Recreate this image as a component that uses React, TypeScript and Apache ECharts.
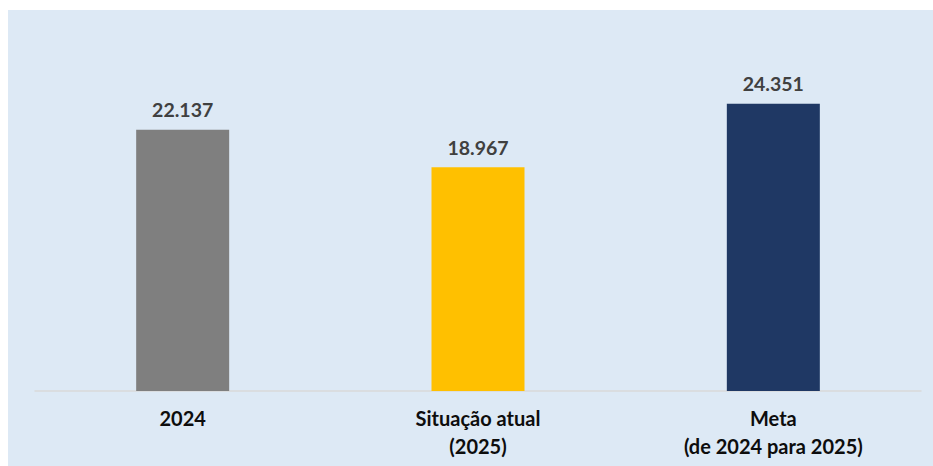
import React, { useEffect, useRef } from "react";
import * as echarts from "echarts";

const categories = ["2024", "Situação atual\n(2025)", "Meta\n(de 2024 para 2025)"];
const values = [22.137, 18.967, 24.351];
const barColors = ["#7f7f7f", "#ffc000", "#1f3864"];

const fmt = (v: number) => v.toFixed(3);

export default function App() {
  const ref = useRef<HTMLDivElement>(null);
  useEffect(() => {
    if (!ref.current) return;
    const chart = echarts.init(ref.current, undefined, { renderer: "svg" });
    chart.setOption({
      animation: false,
      backgroundColor: "#dde9f5",
      grid: { left: 27, right: 12, top: 27, bottom: 75 },
      xAxis: {
        type: "category",
        data: categories,
        axisLine: { show: true, lineStyle: { color: "#d9d9d9", width: 1.5 } },
        axisTick: { show: false },
        axisLabel: {
          color: "#0d0d0d",
          fontFamily: "Lato",
          fontWeight: "bold",
          fontSize: 20,
          lineHeight: 28,
          margin: 13,
          interval: 0,
        },
      },
      yAxis: {
        type: "value",
        min: 0,
        max: 30,
        show: false,
        splitLine: { show: false },
      },
      series: [
        {
          type: "bar",
          barWidth: 93,
          data: values.map((v, i) => ({ value: v, itemStyle: { color: barColors[i] } })),
          label: {
            show: true,
            position: "top",
            distance: 10,
            color: "#404040",
            fontFamily: "Lato",
            fontWeight: "bold",
            fontSize: 19.5,
            formatter: (p: any) => fmt(p.value),
          },
        },
      ],
    });
    return () => chart.dispose();
  }, []);
  return (
    <div
      ref={ref}
      style={{ position: "fixed", left: 8, top: 10, width: 925, height: 456 }}
    />
  );
}
